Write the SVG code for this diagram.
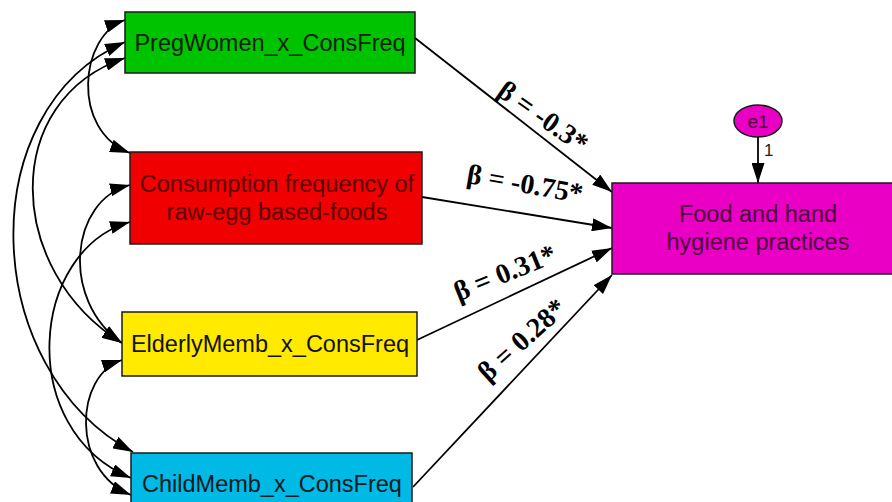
<svg xmlns="http://www.w3.org/2000/svg" width="892" height="502" viewBox="0 0 892 502">
<style>
.box{stroke:#1a1a1a;stroke-width:1.5}
.nt{font-family:"Liberation Sans",Arial,sans-serif;font-size:23.5px;text-anchor:middle}
.lbl{font-family:"Liberation Serif","Times New Roman",serif;font-size:28px;font-weight:bold;text-anchor:middle;fill:#000}
.cv{fill:none;stroke:#000;stroke-width:1.8;marker-start:url(#ah);marker-end:url(#ah)}
.rg{fill:none;stroke:#000;stroke-width:1.8;marker-end:url(#ah)}
</style>
<defs>
<marker id="ah" markerUnits="userSpaceOnUse" markerWidth="21" markerHeight="13" refX="20" refY="6.5" orient="auto-start-reverse" viewBox="0 0 21 13">
<path d="M0,0 L20,6.5 L0,13 z" fill="#000"/>
</marker>
</defs>
<rect width="892" height="502" fill="#fff"/>
<g id="connectors">
<path class="cv" d="M125,20 C80,35 70,130 130,153"/>
<path class="cv" d="M125,42 C-30,110 -20,370 133,452"/>
<path class="cv" d="M125,58 C0,100 5,270 122,343"/>
<path class="cv" d="M130,185 C70,200 60,300 122,343"/>
<path class="cv" d="M130,222 C30,250 15,430 131,478"/>
<path class="cv" d="M122,360 C75,375 70,470 131,495"/>
<path class="rg" d="M415,38 L612,192"/>
<path class="rg" d="M422,197 L612,228"/>
<path class="rg" d="M417,340 L612,248"/>
<path class="rg" d="M413,487 L612,275"/>
<path class="rg" d="M758,137 L758,183"/>
<text x="764" y="156" font-family="Liberation Sans,Arial,sans-serif" font-size="17" fill="#222">1</text>
<text class="lbl" transform="translate(543,117) rotate(35)" y="9">β = -0.3*</text>
<text class="lbl" transform="translate(525,184) rotate(10)" y="9">β = -0.75*</text>
<text class="lbl" transform="translate(505,273) rotate(-22)" y="9">β = 0.31*</text>
<text class="lbl" transform="translate(522,340) rotate(-42)" y="9">β = 0.28*</text>
</g>
<g id="pregwomen">
<rect class="box" x="125" y="12" width="290" height="61" fill="#00c300"/>
<text class="nt" x="270" y="51" fill="#0d1f0d">PregWomen_x_ConsFreq</text>
</g>
<g id="consfreq">
<rect class="box" x="130" y="152" width="292" height="92" fill="#f00000"/>
<text class="nt" x="277" y="192" fill="#5a0000">Consumption frequency of</text>
<text class="nt" x="277" y="220" fill="#5a0000">raw-egg based-foods</text>
</g>
<g id="elderly">
<rect class="box" x="122" y="312" width="295" height="64" fill="#ffea00"/>
<text class="nt" x="270" y="352" fill="#111">ElderlyMemb_x_ConsFreq</text>
</g>
<g id="child">
<rect class="box" x="131" y="453" width="281" height="60" fill="#00b9e4"/>
<text class="nt" x="272" y="492" fill="#0a1a22">ChildMemb_x_ConsFreq</text>
</g>
<g id="hygiene">
<rect class="box" x="612" y="183" width="290" height="91" fill="#ea00c4"/>
<text class="nt" x="758" y="222" fill="#4a003c">Food and hand</text>
<text class="nt" x="758" y="250" fill="#4a003c">hygiene practices</text>
</g>
<g id="e1">
<ellipse cx="758" cy="121" rx="24" ry="16" fill="#ea00c4" stroke="#1a1a1a" stroke-width="1.5"/>
<text x="758" y="128" font-family="Liberation Sans,Arial,sans-serif" font-size="19" text-anchor="middle" fill="#4a003c">e1</text>
</g>
</svg>
